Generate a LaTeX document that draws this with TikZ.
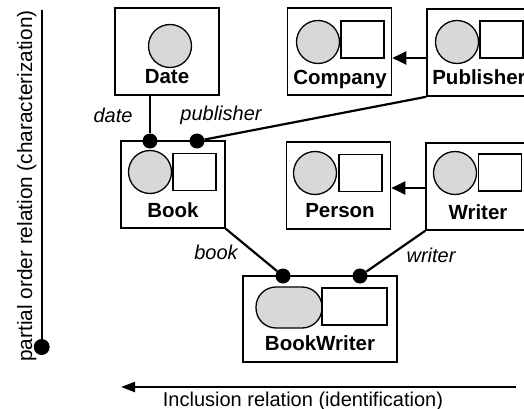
\documentclass[tikz,border=0pt]{standalone}
\usepackage{fontspec}
\setmainfont{Liberation Sans}
\usetikzlibrary{arrows.meta}
\definecolor{shade}{RGB}{216,216,216}
\begin{document}
\begin{tikzpicture}[x=1pt,y=-1pt,
  box/.style={draw,line width=1.6pt,inner sep=0pt,minimum width=104pt,minimum height=87pt},
  ball/.style={draw,line width=1.3pt,fill=shade,circle,inner sep=0pt,minimum size=43pt},
  sq/.style={draw,line width=1.3pt,fill=white,rectangle,inner sep=0pt,minimum width=43pt,minimum height=37pt},
  dot/.style={circle,fill=black,inner sep=0pt,minimum size=15pt},
  conn/.style={line width=2.2pt},
  lbl/.style={font=\fontsize{20.5}{24}\selectfont\bfseries,inner sep=0pt,anchor=base},
  rel/.style={font=\fontsize{20}{24}\selectfont\itshape,inner sep=0pt},
  axis/.style={font=\fontsize{20}{24}\selectfont,inner sep=0pt,anchor=base},
  tip/.style={-{Triangle[length=14pt,width=13pt]}}]
\useasboundingbox (0,0) rectangle (524,409);
\clip (0,0) rectangle (524,409);
% boxes
\node[box] (Date) at (167,51.5) {};
\node[ball] (Datec) at (170,46) {};
\node[lbl] (Datet) at (167,84) {Date};

\node[box] (Company) at (339.5,51.5) {};
\node[ball] (Companyc) at (318,42) {};
\node[sq] (Companys) at (362.5,39.5) {};
\node[lbl] (Companyt) at (340,85) {Company};

\node[box] (Publisher) at (479,52.5) {};
\node[ball] (Publisherc) at (457,42) {};
\node[sq] (Publishers) at (501.5,39.5) {};
\node[lbl] (Publishert) at (479,85) {Publisher};

\node[box] (Book) at (173,184.5) {};
\node[ball] (Bookc) at (150,172) {};
\node[sq] (Books) at (194.5,172) {};
\node[lbl] (Bookt) at (173,217) {Book};

\node[box] (Person) at (338.5,185.5) {};
\node[ball] (Personc) at (315,173) {};
\node[sq] (Persons) at (360.5,173) {};
\node[lbl] (Persont) at (340,217) {Person};

\node[box] (Writer) at (478,186.5) {};
\node[ball] (Writerc) at (455,173) {};
\node[sq] (Writers) at (500,172.5) {};
\node[lbl] (Writert) at (478,219) {Writer};

\node[box,minimum width=154pt,minimum height=86pt] (BW) at (320,319) {};
\node[draw,line width=1.3pt,fill=shade,rectangle,rounded corners=20pt,inner sep=0pt,minimum width=66pt,minimum height=41pt] (BWc) at (289,307.5) {};
\node[sq,minimum width=65pt] (BWs) at (354.5,306.5) {};
\node[lbl] (BWt) at (320,350) {BookWriter};

% dots
\node[dot] (d1) at (150,141) {};
\node[dot] (d2) at (197,141) {};
\node[dot] (d3) at (283,276) {};
\node[dot] (d4) at (360,276) {};

% connectors
\draw[conn] (Date.south -| d1) -- (d1);
\draw[conn] (Publisher.south west) -- (d2);
\draw[conn] (Book.south east) -- (d3);
\draw[conn] (Writer.south west) -- (d4);

\coordinate (ya) at (0,58);
\coordinate (yb) at (0,188);
\draw[conn,tip] (Publisher.west |- ya) -- (Company.east |- ya);
\draw[conn,tip] (Writer.west |- yb) -- (Person.east |- yb);

% relation labels
\node[rel] (ldate) at (113,115) {date};
\node[rel] (lpub) at (221,115) {publisher};
\node[rel] (lbook) at (216,252) {book};
\node[rel] (lwriter) at (431,255) {writer};

% axes
\coordinate (vtop) at (41.7,10);
\node[dot,minimum size=16pt] (vdot) at (41.7,347) {};
\draw[conn] (vtop) -- (vdot);
\node[axis,rotate=90,font=\fontsize{20.8}{24}\selectfont] (vlab) at (32,186) {partial order relation (characterization)};

\coordinate (hs) at (516,387);
\coordinate (he) at (121,387);
\draw[conn,-{Triangle[length=14pt,width=10pt]}] (hs) -- (he);
\node[axis] (hlab) at (303,406) {Inclusion relation (identification)};
\end{tikzpicture}
\end{document}
